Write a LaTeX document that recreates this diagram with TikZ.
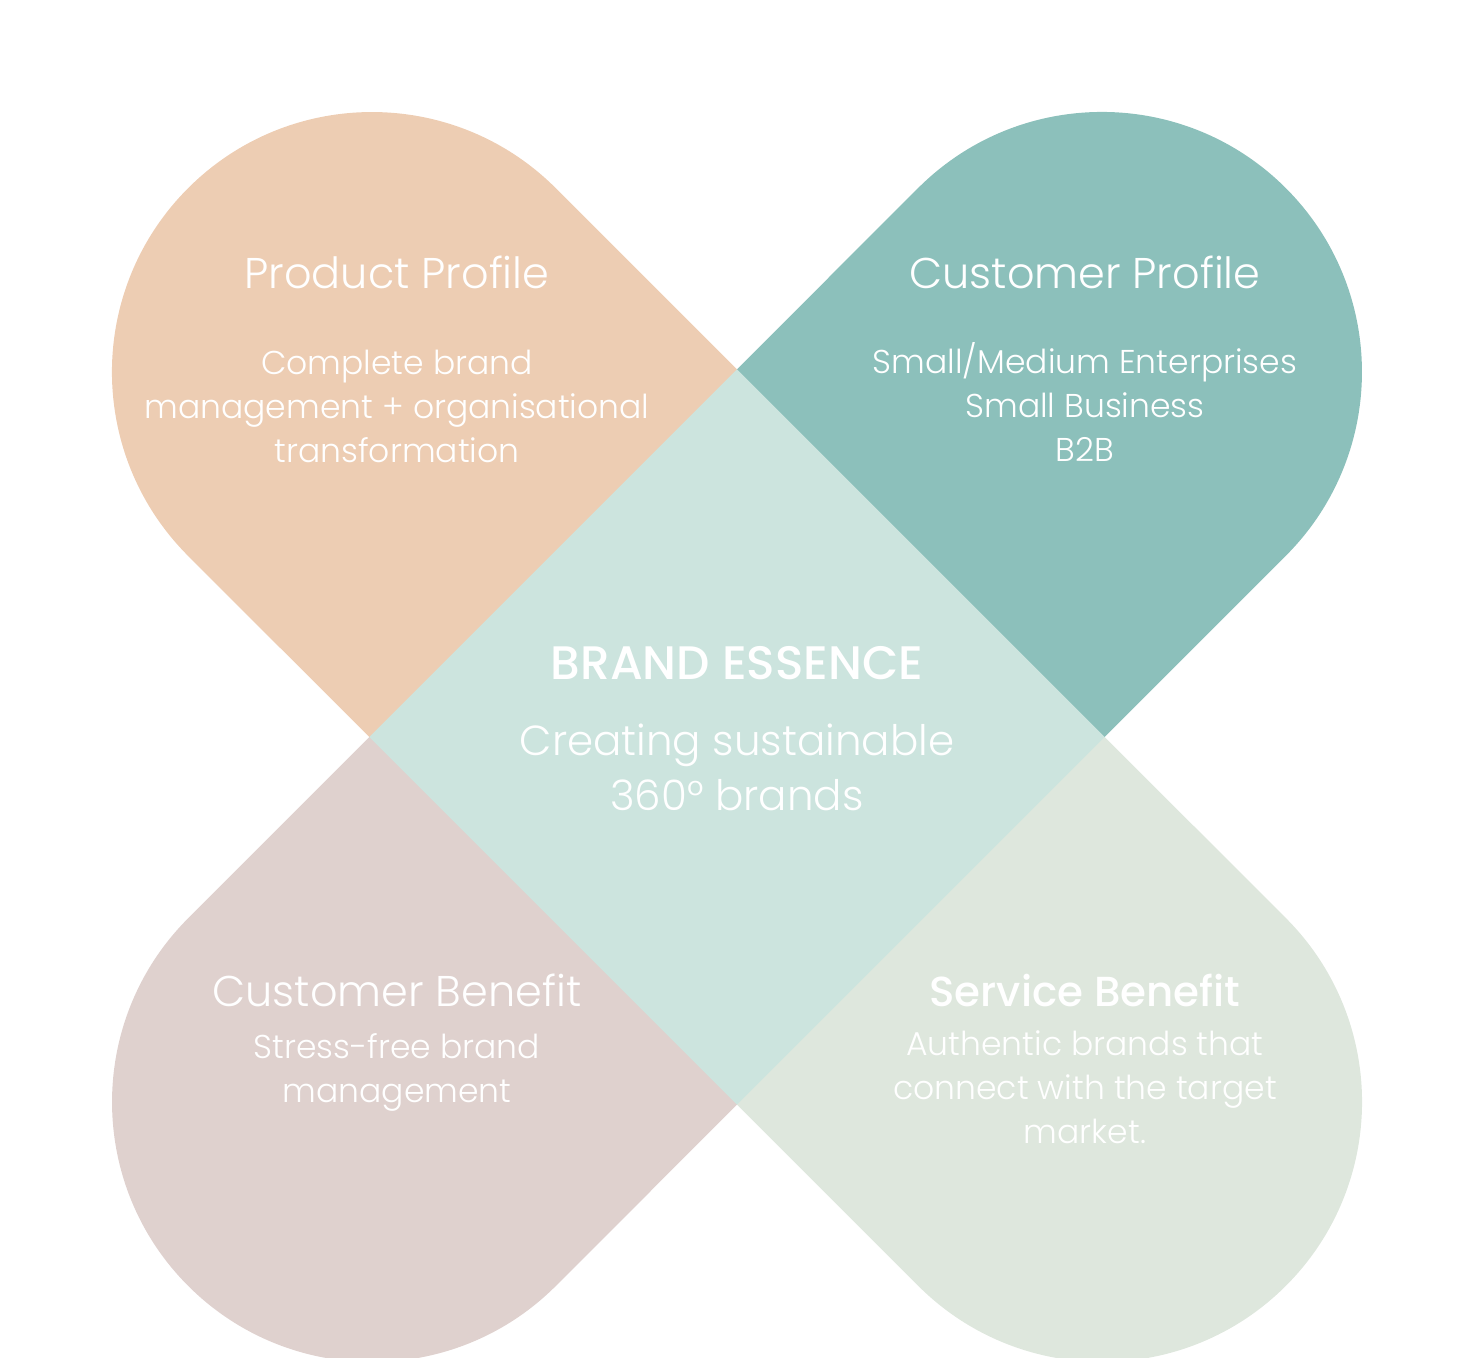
\documentclass[tikz,border=0pt]{standalone}
\usepackage{fontspec}
\setmainfont{Poppins}
\newfontfamily\plight{Poppins Light}
\newfontfamily\pmed{Poppins Medium}
\usetikzlibrary{calc}

\definecolor{petalorange}{HTML}{EDCDB3}
\definecolor{petalteal}{HTML}{8CC0BB}
\definecolor{petalmauve}{HTML}{DFD1CE}
\definecolor{petalsage}{HTML}{DEE7DD}
\definecolor{essence}{HTML}{CCE4DE}

\begin{document}
\begin{tikzpicture}[x=1pt,y=1pt,inner sep=0pt,outer sep=0pt,
    petal/.style={rotate=#1},
    head/.style={text=white, font=\plight\fontsize{43}{48}\selectfont},
    body/.style={text=white, align=center, font=\plight\fontsize{33}{44}\selectfont}]
    \useasboundingbox (-737,-620) rectangle (727,737);

    % petals
    \foreach \ang/\col in {0/petalorange, -90/petalteal, 90/petalmauve, 180/petalsage}
    {
    \fill[\col, petal=\ang] (0,367.7) -- (-181.2,548.8)
        arc[start angle=45, end angle=225, radius=260]
        -- (-367.7,0) -- (0,0) -- cycle;
    }

    % centre
    \fill[essence] (0,367.7) -- (367.7,0) -- (0,-367.7) -- (-367.7,0) -- cycle;

    % product profile
    \node[head] (prod_head) at (-340,465) {Product Profile};
    \node[body] (prod_body) at (-340,331)
    {Complete brand \\ management + organisational \\ transformation};

    % customer profile
    \node[head] (cust_head) at (348,465) {Customer Profile};
    \node[body] (cust_body) at (348,335)
    {Small/Medium Enterprises \\ Small Business \\ B2B};

    % brand essence
    \node[text=white, font=\pmed\fontsize{47}{52}\selectfont] (ess_head) at (0,74) {BRAND ESSENCE};
    \node[text=white, align=center, font=\plight\fontsize{42}{55}\selectfont] (ess_body) at (0,-30)
    {Creating sustainable \\ 360° brands};

    % customer benefit
    \node[head] (cben_head) at (-340,-253) {Customer Benefit};
    \node[body] (cben_body) at (-340,-335)
    {Stress-free brand \\ management};

    % service benefit
    \node[head, font=\pmed\fontsize{42}{48}\selectfont] (sben_head) at (348,-253) {Service Benefit};
    \node[body] (sben_body) at (348,-350)
    {Authentic brands that \\ connect with the target \\ market.};

\end{tikzpicture}
\end{document}
